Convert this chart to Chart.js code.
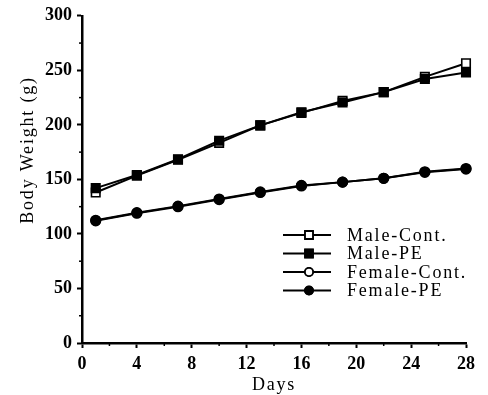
<!DOCTYPE html>
<html>
<head>
<meta charset="utf-8">
<script src="https://cdn.jsdelivr.net/npm/chart.js@4/dist/chart.umd.min.js"></script>
<style>
  html, body { margin: 0; padding: 0; background: #fff; }
  canvas { display: block; }
</style>
</head>
<body>
<canvas id="c" width="488" height="395"></canvas>
<script>
// Body weight (g) by day of study
const days = [1, 4, 7, 10, 13, 16, 19, 22, 25, 28];
const maleCont   = [138, 153.5, 168, 183.5, 199.5, 211, 222, 230, 244, 256.5];
const malePE     = [142, 154, 168.5, 185.5, 199.5, 211.5, 220.5, 230, 242, 248];
const femaleCont = [112, 119, 125, 131.5, 138, 144, 147.5, 151, 156.5, 159.5];
const femalePE   = [112.5, 119.5, 125.5, 132, 138.5, 144.5, 147.5, 151, 157, 160];
const seriesNames = ['Male-Cont.', 'Male-PE', 'Female-Cont.', 'Female-PE'];
const xTicks = [0, 4, 8, 12, 16, 20, 24, 28];
const yTicks = [0, 50, 100, 150, 200, 250, 300];

const SERIF = '"Liberation Serif", "Times New Roman", serif';
const pts = vals => days.map((d, i) => ({ x: d, y: vals[i] }));

function series(label, vals, style, filled, order) {
  return {
    label,
    data: pts(vals),
    borderColor: '#000',
    borderWidth: 2,
    pointStyle: style,
    pointRadius: style === 'rect' ? 6 : 4.8,
    pointBorderWidth: 1.6,
    pointBackgroundColor: filled ? '#000' : '#fff',
    pointBorderColor: '#000',
    backgroundColor: filled ? '#000' : '#fff',
    tension: 0,
    fill: false,
    clip: false,
    order
  };
}

// minor tick marks between the labelled ticks
const minorTicks = {
  id: 'minorTicks',
  afterDraw(chart) {
    const { ctx, chartArea, scales } = chart;
    ctx.save();
    ctx.strokeStyle = '#000';
    ctx.lineWidth = 1.5;
    for (let v = 25; v < 300; v += 50) {
      const y = scales.y.getPixelForValue(v);
      ctx.beginPath(); ctx.moveTo(chartArea.left - 3, y); ctx.lineTo(chartArea.left, y); ctx.stroke();
    }
    for (let v = 2; v < 28; v += 4) {
      const x = scales.x.getPixelForValue(v);
      ctx.beginPath(); ctx.moveTo(x, chartArea.bottom); ctx.lineTo(x, chartArea.bottom + 3); ctx.stroke();
    }
    ctx.restore();
  }
};

// axis titles
const axisTitles = {
  id: 'axisTitles',
  afterDraw(chart) {
    const { ctx, chartArea } = chart;
    ctx.save();
    ctx.fillStyle = '#000';
    ctx.font = '18px ' + SERIF;
    ctx.letterSpacing = '1.8px';
    ctx.textAlign = 'center';
    ctx.textBaseline = 'alphabetic';
    ctx.fillText('Days', (chartArea.left + chartArea.right) / 2, 390);
    ctx.translate(33, 150);
    ctx.rotate(-Math.PI / 2);
    ctx.fillText('Body Weight (g)', 0, 0);
    ctx.restore();
  }
};

// legend: a short line with the series marker in its middle
const lineLegend = {
  id: 'lineLegend',
  afterDraw(chart) {
    const { ctx } = chart;
    const x0 = 283, x1 = 331, xm = 309, tx = 347;
    const rowY = [235, 253.5, 272, 290.5];
    ctx.save();
    ctx.font = '18px ' + SERIF;
    ctx.letterSpacing = '1.8px';
    ctx.textBaseline = 'middle';
    ctx.fillStyle = '#000';
    chart.data.datasets.forEach((ds, i) => {
      const y = rowY[i];
      ctx.strokeStyle = '#000';
      ctx.lineWidth = 2;
      ctx.beginPath(); ctx.moveTo(x0, y); ctx.lineTo(x1, y); ctx.stroke();
      Chart.helpers.drawPoint(ctx, {
        pointStyle: ds.pointStyle,
        radius: ds.pointStyle === 'rect' ? 5.5 : 4,
        borderWidth: 1.6,
        rotation: 0
      }, xm, y);
      ctx.fillStyle = ds.pointBackgroundColor;
      ctx.strokeStyle = '#000';
      ctx.lineWidth = 1.6;
      ctx.fill(); ctx.stroke();
      ctx.fillStyle = '#000';
      ctx.fillText(ds.label, tx, y + 1);
    });
    ctx.restore();
  }
};

new Chart(document.getElementById('c'), {
  type: 'line',
  data: {
    datasets: [
      series(seriesNames[0], maleCont, 'rect', false, 1),
      series(seriesNames[1], malePE, 'rect', true, 0),
      series(seriesNames[2], femaleCont, 'circle', false, 3),
      series(seriesNames[3], femalePE, 'circle', true, 2)
    ]
  },
  options: {
    responsive: false,
    animation: false,
    events: [],
    devicePixelRatio: 1,
    layout: { padding: { left: 0, top: 15, right: 22, bottom: 0 } },
    plugins: { legend: { display: false }, tooltip: { enabled: false } },
    scales: {
      x: {
        type: 'linear',
        min: 0, max: 28,
        afterBuildTicks: s => { s.ticks = xTicks.map(v => ({ value: v })); },
        afterFit: s => { s.height = 52; },
        border: { display: true, color: '#000', width: 2.5 },
        grid: { drawOnChartArea: false, drawTicks: true, tickLength: 5, tickColor: '#000', tickWidth: 2 },
        ticks: { color: '#000', padding: 6, maxRotation: 0, font: { family: SERIF, size: 18, weight: 'bold' } }
      },
      y: {
        min: 0, max: 300,
        afterBuildTicks: s => { s.ticks = yTicks.map(v => ({ value: v })); },
        afterFit: s => { s.width = 82; },
        border: { display: true, color: '#000', width: 2.5 },
        grid: { drawOnChartArea: false, drawTicks: true, tickLength: 5, tickColor: '#000', tickWidth: 2 },
        ticks: { color: '#000', padding: 5, font: { family: SERIF, size: 18, weight: 'bold' } }
      }
    }
  },
  plugins: [minorTicks, axisTitles, lineLegend]
});
</script>
</body>
</html>
